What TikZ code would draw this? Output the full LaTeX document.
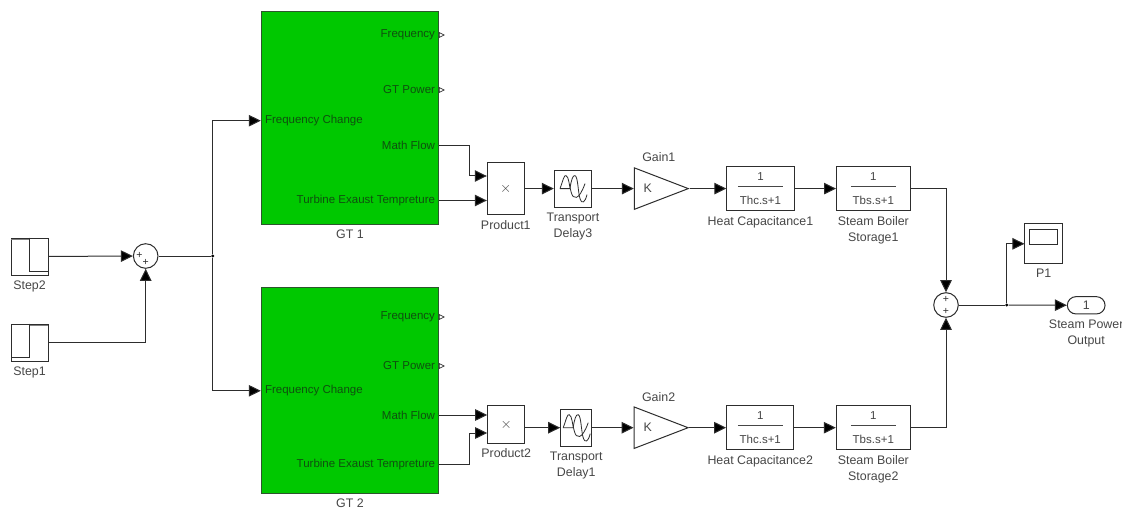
\documentclass[tikz,border=0pt]{standalone}
\usepackage{fontspec}
\setmainfont{Liberation Sans}
\usepackage{xcolor}
\usetikzlibrary{positioning,arrows.meta,shapes.geometric,shapes.misc}

\definecolor{gtgreen}{RGB}{0,200,0}
\definecolor{gtedge}{RGB}{45,85,45}
\definecolor{gttext}{RGB}{15,80,15}
\definecolor{wirecol}{RGB}{45,45,45}
\definecolor{labcol}{RGB}{70,70,70}

\newcommand{\fracbody}[1]{1\\[-5.2pt]\rule{45pt}{0.9pt}\\[5.5pt]#1}

\tikzset{
  x=1pt, y=-1pt,
  every node/.style={font=\fontsize{12.4}{16.3}\selectfont, text=labcol, inner sep=0pt},
  wire/.style={draw=wirecol, line width=1pt, -{Triangle[length=12pt,width=11.5pt,fill=black]}},
  plainwire/.style={draw=wirecol, line width=1pt},
  blockbox/.style={draw=wirecol, line width=1pt, fill=white, minimum width=#1, align=center},
  fracnode/.style={font=\fontsize{11.5}{11.5}\selectfont},
  gtbox/.style={draw=gtedge, line width=1pt, fill=gtgreen, minimum width=177.4pt},
  portlab/.style={font=\fontsize{11.5}{14}\selectfont, text=gttext, inner xsep=4pt},
  sumnode/.style={draw=wirecol, line width=1pt, fill=white, circle, minimum size=24.6pt},
  plussign/.style={font=\fontsize{10.5}{10.5}\selectfont, text=wirecol},
  joinnode/.style={fill=black, circle, minimum size=3.4pt},
  caption/.style={align=center},
  gainnode/.style={draw=wirecol, line width=1pt, fill=white, isosceles triangle,
    isosceles triangle stretches, minimum width=41.5pt, minimum height=54pt},
  openport/.style={draw=wirecol, line width=0.7pt, fill=white},
  iconline/.style={draw=wirecol, line width=0.8pt}
}

\begin{document}
\begin{tikzpicture}
  \useasboundingbox (0,0) rectangle (1122,508);

  % sources
  \node[blockbox=37pt, minimum height=37pt] (step2) at (29.5,256.5) {};
  \node[caption, below=5pt of step2] (step2lab) {Step2};
  \node[blockbox=37pt, minimum height=37pt] (step1) at (29.5,342.5) {};
  \node[caption, below=5pt of step1] (step1lab) {Step1};
  \draw[draw=gray, line width=1.8pt] ([yshift=-2pt]step2.north west) -- ++(18.5,0);
  \draw[iconline] (step2.north) -- ++(0,33.5) -- ++(18.5,0);
  \draw[draw=gray, line width=1.8pt] ([yshift=-2pt]step1.north) -- ++(18.5,0);
  \draw[iconline] (step1.north) -- ++(0,33.5) -- ++(-18.5,0);

  \node[sumnode] (sum1) at (145.7,256) {};
  \node[plussign] at ([xshift=-6.3pt,yshift=0.5pt]sum1.center) (sum1a) {+};
  \node[plussign] at ([yshift=-6.3pt]sum1.center) (sum1b) {+};
  \node[joinnode] (join1) at (212.7,256) {};

  % gas turbines
  \node[gtbox, minimum height=212pt] (gt1) at (350,118) {};
  \node[caption, below=5pt of gt1] (gt1lab) {GT 1};
  \node[portlab, anchor=west] (gt1fc) at (gt1.west |- 0,120.7) {Frequency Change};
  \node[portlab, anchor=east] (gt1fr) at (gt1.east |- 0,35) {Frequency};
  \node[portlab, anchor=east] (gt1pw) at (gt1.east |- 0,90) {GT Power};
  \node[portlab, anchor=east] (gt1mf) at (gt1.east |- 0,145.5) {Math Flow};
  \node[portlab, anchor=east] (gt1te) at (gt1.east |- 0,200.5) {Turbine Exaust Tempreture};

  \node[gtbox, minimum height=205.7pt] (gt2) at (350,390.8) {};
  \node[caption, below=4pt of gt2] (gt2lab) {GT 2};
  \node[portlab, anchor=west] (gt2fc) at (gt2.west) {Frequency Change};
  \node[portlab, anchor=east] (gt2fr) at (gt2.east |- 0,317) {Frequency};
  \node[portlab, anchor=east] (gt2pw) at (gt2.east |- 0,366) {GT Power};
  \node[portlab, anchor=east] (gt2mf) at (gt2.east |- 0,415) {Math Flow};
  \node[portlab, anchor=east] (gt2te) at (gt2.east |- 0,464.5) {Turbine Exaust Tempreture};

  \foreach \p in {gt1fr,gt1pw,gt2fr,gt2pw}
    \draw[openport] (\p.east) ++(0,-2.5) -- ++(5,2.5) -- ++(-5,2.5) -- cycle;

  % upper chain
  \node[blockbox=37pt, minimum height=51.6pt] (prod1) at (505.8,188.6)
      {\fontsize{15}{15}\selectfont$\times$};
  \node[caption, below=5.5pt of prod1] (prod1lab) {Product1};
  \node[blockbox=37.4pt, minimum height=37pt, right=29pt of prod1] (delay3) {};
  \node[caption, below=5pt of delay3] (delay3lab) {Transport\\Delay3};
  \node[gainnode, right=41.6pt of delay3] (gain1) {};
  \node[anchor=west] (gain1k) at ([xshift=9.7pt]gain1.west) {K};
  \node[caption] (gain1lab) at ([shift={(25,-31.6)}]gain1.west) {Gain1};
  \node[blockbox=67.3pt, minimum height=44pt, fracnode, right=36.7pt of gain1] (heat1) {\fracbody{Thc.s+1}};
  \node[caption, below=5pt of heat1] (heat1lab) {Heat Capacitance1};
  \node[blockbox=73.6pt, minimum height=44pt, fracnode, right=41.4pt of heat1] (boiler1) {\fracbody{Tbs.s+1}};
  \node[caption, below=5pt of boiler1] (boiler1lab) {Steam Boiler\\Storage1};

  % lower chain
  \node[blockbox=37pt, minimum height=37.6pt] (prod2) at (506.2,424.5)
      {\fontsize{15}{15}\selectfont$\times$};
  \node[caption, below=5pt of prod2] (prod2lab) {Product2};
  \node[blockbox=31pt, minimum height=37pt, right=35pt of prod2, yshift=-3.2pt] (delay1) {};
  \node[caption, below=5pt of delay1] (delay1lab) {Transport\\Delay1};
  \node[gainnode, right=41.4pt of delay1] (gain2) {};
  \node[anchor=west] (gain2k) at ([xshift=9.7pt]gain2.west) {K};
  \node[caption] (gain2lab) at ([shift={(25,-31)}]gain2.west) {Gain2};
  \node[blockbox=67.3pt, minimum height=44pt, fracnode, right=36.7pt of gain2] (heat2) {\fracbody{Thc.s+1}};
  \node[caption, below=5pt of heat2] (heat2lab) {Heat Capacitance2};
  \node[blockbox=74pt, minimum height=44pt, fracnode, right=41.4pt of heat2] (boiler2) {\fracbody{Tbs.s+1}};
  \node[caption, below=5pt of boiler2] (boiler2lab) {Steam Boiler\\Storage2};

  % delay icons
  \foreach \d in {delay3,delay1} {
    \draw[iconline] ([shift={(-13,0)}]\d.center) .. controls ([shift={(-10,-8)}]\d.center) and ([shift={(-9,-14)}]\d.center) .. ([shift={(-7,-13)}]\d.center)
      .. controls ([shift={(-4,-12)}]\d.center) and ([shift={(-4,-3)}]\d.center) .. ([shift={(-2,3)}]\d.center)
      .. controls ([shift={(0,12)}]\d.center) and ([shift={(6,12)}]\d.center) .. ([shift={(12,-5)}]\d.center);
    \draw[iconline] ([shift={(-13,0)}]\d.center) -- ([shift={(-3,0)}]\d.center)
      .. controls ([shift={(-2,-8)}]\d.center) and ([shift={(0,-14)}]\d.center) .. ([shift={(2,-13)}]\d.center)
      .. controls ([shift={(5,-12)}]\d.center) and ([shift={(5,4)}]\d.center) .. ([shift={(7,10)}]\d.center)
      .. controls ([shift={(9,16)}]\d.center) and ([shift={(12,14)}]\d.center) .. ([shift={(14,6)}]\d.center);
  }

  % output side
  \node[sumnode] (sum2) at (946,305) {};
  \node[plussign] at ([yshift=5.7pt]sum2.center) (sum2a) {+};
  \node[plussign] at ([yshift=-6.9pt]sum2.center) (sum2b) {+};
  \node[joinnode] (join2) at (1006.7,305) {};
  \node[blockbox=37.3pt, minimum height=39.7pt] (scope) at (1043.6,243.8) {};
  \node[draw=wirecol, line width=1pt, minimum width=27.7pt, minimum height=14.7pt] (screen) at (1043.8,236.7) {};
  \node[caption, below=5pt of scope] (scopelab) {P1};
  \node[draw=wirecol, line width=1pt, rounded rectangle, minimum width=37.7pt, minimum height=17.3pt] (outp) at (1086.2,305.3) {1};
  \node[caption, below=5pt of outp] (outplab) {Steam Power\\Output};

  % connectors
  \draw[wire] (step2) -- (sum1);
  \draw[wire] (step1) -| (sum1);
  \draw[plainwire] (sum1) -- (join1);
  \draw[wire] (join1) |- (gt1fc.west);
  \draw[wire] (join1) |- (gt2fc.west);
  \draw[wire] (gt1mf.east) -- ++(30.5,0) |- ([yshift=12.6pt]prod1.west);
  \draw[wire] (gt1te.east) -- (gt1te.east -| prod1.west);
  \draw[wire] (gt2mf.east) -- (gt2mf.east -| prod2.west);
  \draw[wire] (gt2te.east) -- ++(30.5,0) |- ([yshift=-8.5pt]prod2.west);
  \draw[wire] (prod1) -- (delay3);
  \draw[wire] (delay3) -- (gain1);
  \draw[wire] (gain1.apex) -- (heat1);
  \draw[wire] (heat1) -- (boiler1);
  \draw[wire] (boiler1) -| (sum2);
  \draw[wire] (prod2.east |- delay1) -- (delay1);
  \draw[wire] (delay1) -- (gain2);
  \draw[wire] (gain2.apex) -- (heat2);
  \draw[wire] (heat2) -- (boiler2);
  \draw[wire] (boiler2) -| (sum2);
  \draw[plainwire] (sum2) -- (join2);
  \draw[wire] (join2) |- (scope);
  \draw[wire] (join2) -- (outp);
\end{tikzpicture}
\end{document}
